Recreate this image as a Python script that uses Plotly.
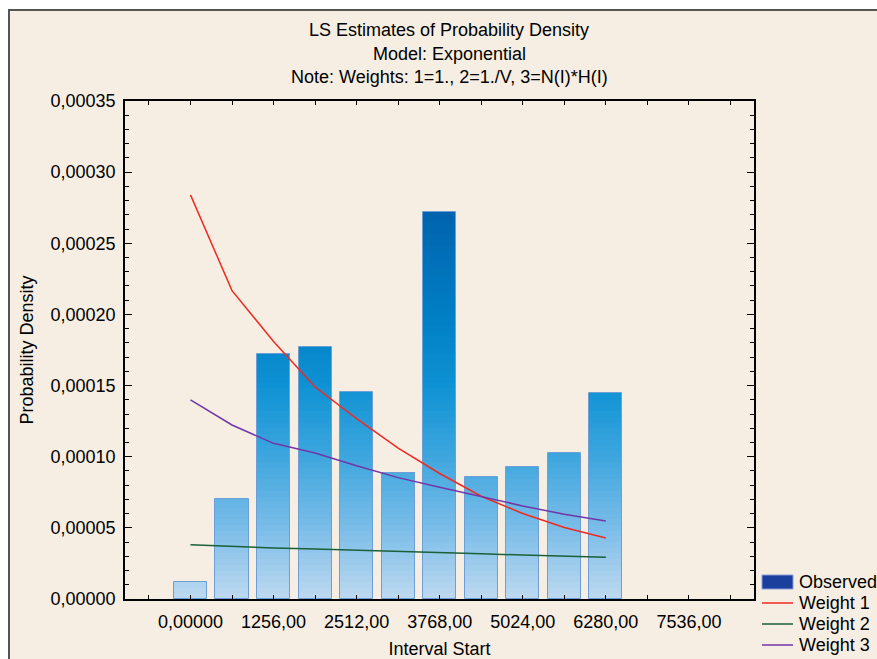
import plotly.graph_objects as go

# ---------------- data ----------------
interval_start = [0, 628, 1256, 1884, 2512, 3140, 3768, 4396, 5024, 5652, 6280]
observed = [1.21e-5, 7.06e-5, 1.723e-4, 1.77e-4, 1.457e-4, 8.89e-5,
            2.717e-4, 8.58e-5, 9.28e-5, 1.029e-4, 1.447e-4]
weight1 = [2.84e-4, 2.167e-4, 1.81e-4, 1.49e-4, 1.267e-4, 1.061e-4,
           8.82e-5, 7.22e-5, 6.01e-5, 5.03e-5, 4.28e-5]
weight2 = [3.82e-5, 3.68e-5, 3.58e-5, 3.51e-5, 3.44e-5, 3.35e-5,
           3.25e-5, 3.18e-5, 3.09e-5, 3.02e-5, 2.93e-5]
weight3 = [1.399e-4, 1.223e-4, 1.094e-4, 1.026e-4, 9.37e-5, 8.53e-5,
           7.85e-5, 7.19e-5, 6.54e-5, 5.95e-5, 5.48e-5]
x_tickvals = [0, 1256, 2512, 3768, 5024, 6280, 7536]
x_ticktext = ["0,00000", "1256,00", "2512,00", "3768,00", "5024,00", "6280,00", "7536,00"]
title_lines = ["LS Estimates of Probability Density",
               "Model: Exponential",
               "Note: Weights: 1=1., 2=1./V, 3=N(I)*H(I)"]
legend_names = ["Observed", "Weight 1", "Weight 2", "Weight 3"]

# ---------------- style ----------------
FONT = "Liberation Sans, Arial, sans-serif"
FS = 18
BEIGE = "#F6EEE2"
BAR_W = 500
C_OBS = "#1B3F9C"
C_W1 = "#F02A22"
C_W2 = "#1A6038"
C_W3 = "#7236A8"
W, H = 877, 659
# plot-area pixel geometry in window coordinates
PL, PR, PT, PB = 125, 754, 101, 599


def px(x):
    return (x - PL) / (PR - PL)


def py(y):
    return (PB - y) / (PB - PT)


# gradient stops (value level -> rgb), absolute to the y axis
stops = [(0.0, (190, 217, 240)), (5e-5, (122, 189, 232)), (1e-4, (62, 166, 222)),
         (1.5e-4, (14, 146, 212)), (2e-4, (0, 126, 196)), (2.75e-4, (0, 98, 174)),
         (3.5e-4, (0, 80, 160))]


def grad_color(v):
    for (a, ca), (b, cb) in zip(stops[:-1], stops[1:]):
        if v <= b:
            t = (v - a) / (b - a)
            c = [round(ca[i] + (cb[i] - ca[i]) * t) for i in range(3)]
            return f"rgb({c[0]},{c[1]},{c[2]})"
    c = stops[-1][1]
    return f"rgb({c[0]},{c[1]},{c[2]})"


fig = go.Figure()

# gradient bars: stacked bands derived from the observed values
band = 4e-6
top = max(observed)
lo = 0.0
while lo < top:
    hi = lo + band
    seg = [max(0.0, min(v, hi) - lo) for v in observed]
    fig.add_trace(go.Bar(
        x=interval_start, y=seg, base=[lo] * len(seg), width=BAR_W,
        marker=dict(color=grad_color((lo + hi) / 2), line=dict(width=0)),
        showlegend=False, hoverinfo="skip"))
    lo = hi

# bar outlines
fig.add_trace(go.Bar(
    x=interval_start, y=observed, width=BAR_W, name=legend_names[0],
    marker=dict(color="rgba(0,0,0,0)", line=dict(color="#6E9ED6", width=1)),
    showlegend=False))

for name, vals, col in zip(legend_names[1:], [weight1, weight2, weight3], [C_W1, C_W2, C_W3]):
    fig.add_trace(go.Scatter(x=interval_start, y=vals, mode="lines", name=name,
                             line=dict(color=col, width=1.5), showlegend=False))

annotations = []
for txt, yy in zip(title_lines, [30, 54, 77]):
    annotations.append(dict(
        text=txt, xref="paper", yref="paper", x=px(449), y=py(yy),
        xanchor="center", yanchor="middle", showarrow=False,
        font=dict(family=FONT, size=FS, color="#000")))

shapes = [dict(type="rect", xref="paper", yref="paper", layer="below",
               x0=px(9), x1=px(960), y0=py(720), y1=py(10),
               fillcolor=BEIGE, line=dict(color="#555555", width=2))]

# manual legend (bottom right, outside plot area)
leg_y = [582, 603, 624, 645]
shapes.append(dict(type="rect", xref="paper", yref="paper",
                   x0=px(762), x1=px(793), y0=py(589), y1=py(575),
                   fillcolor=C_OBS, line=dict(color="#8A9AD8", width=1)))
for yy, col in zip(leg_y[1:], [C_W1, C_W2, C_W3]):
    shapes.append(dict(type="line", xref="paper", yref="paper",
                       x0=px(762), x1=px(793), y0=py(yy), y1=py(yy),
                       line=dict(color=col, width=1.5)))
for yy, name in zip(leg_y, legend_names):
    annotations.append(dict(
        text=name, xref="paper", yref="paper", x=px(797), y=py(yy),
        xanchor="left", yanchor="middle", showarrow=False,
        font=dict(family=FONT, size=FS, color="#000")))

fig.update_layout(
    width=W, height=H, autosize=False,
    margin=dict(l=PL, r=W - PR, t=PT, b=H - PB, autoexpand=False),
    paper_bgcolor="white", plot_bgcolor="white",
    barmode="overlay", bargap=0,
    separators=", ",
    showlegend=False,
    font=dict(family=FONT, size=FS, color="#000"),
    annotations=annotations,
    shapes=shapes,
    xaxis=dict(range=[-990, 8520], tickvals=x_tickvals, ticktext=x_ticktext,
               ticks="inside", ticklen=4, tickcolor="#000",
               minor=dict(dtick=628, tick0=0, ticks="inside", ticklen=4, tickcolor="#000"),
               showline=True, linecolor="#000", linewidth=1.5, mirror="ticks",
               showgrid=False, zeroline=False, ticklabelstandoff=6,
               title=dict(text="Interval Start", standoff=15,
                          font=dict(family=FONT, size=FS))),
    yaxis=dict(range=[0, 0.00035], dtick=0.00005, tick0=0, tickformat=".5f",
               ticks="inside", ticklen=7, tickcolor="#000",
               minor=dict(dtick=0.00001, ticks="inside", ticklen=4, tickcolor="#000"),
               showline=True, linecolor="#000", linewidth=1.5, mirror="ticks",
               showgrid=False, zeroline=False, ticklabelstandoff=4,
               title=dict(text="Probability Density", standoff=12,
                          font=dict(family=FONT, size=FS))),
)

fig.write_html(
    "out.html",
    config={"displayModeBar": False},
    post_script=("document.body.style.margin='0';"
                 "document.body.style.overflow='hidden';"
                 "document.documentElement.style.overflow='hidden';"))
